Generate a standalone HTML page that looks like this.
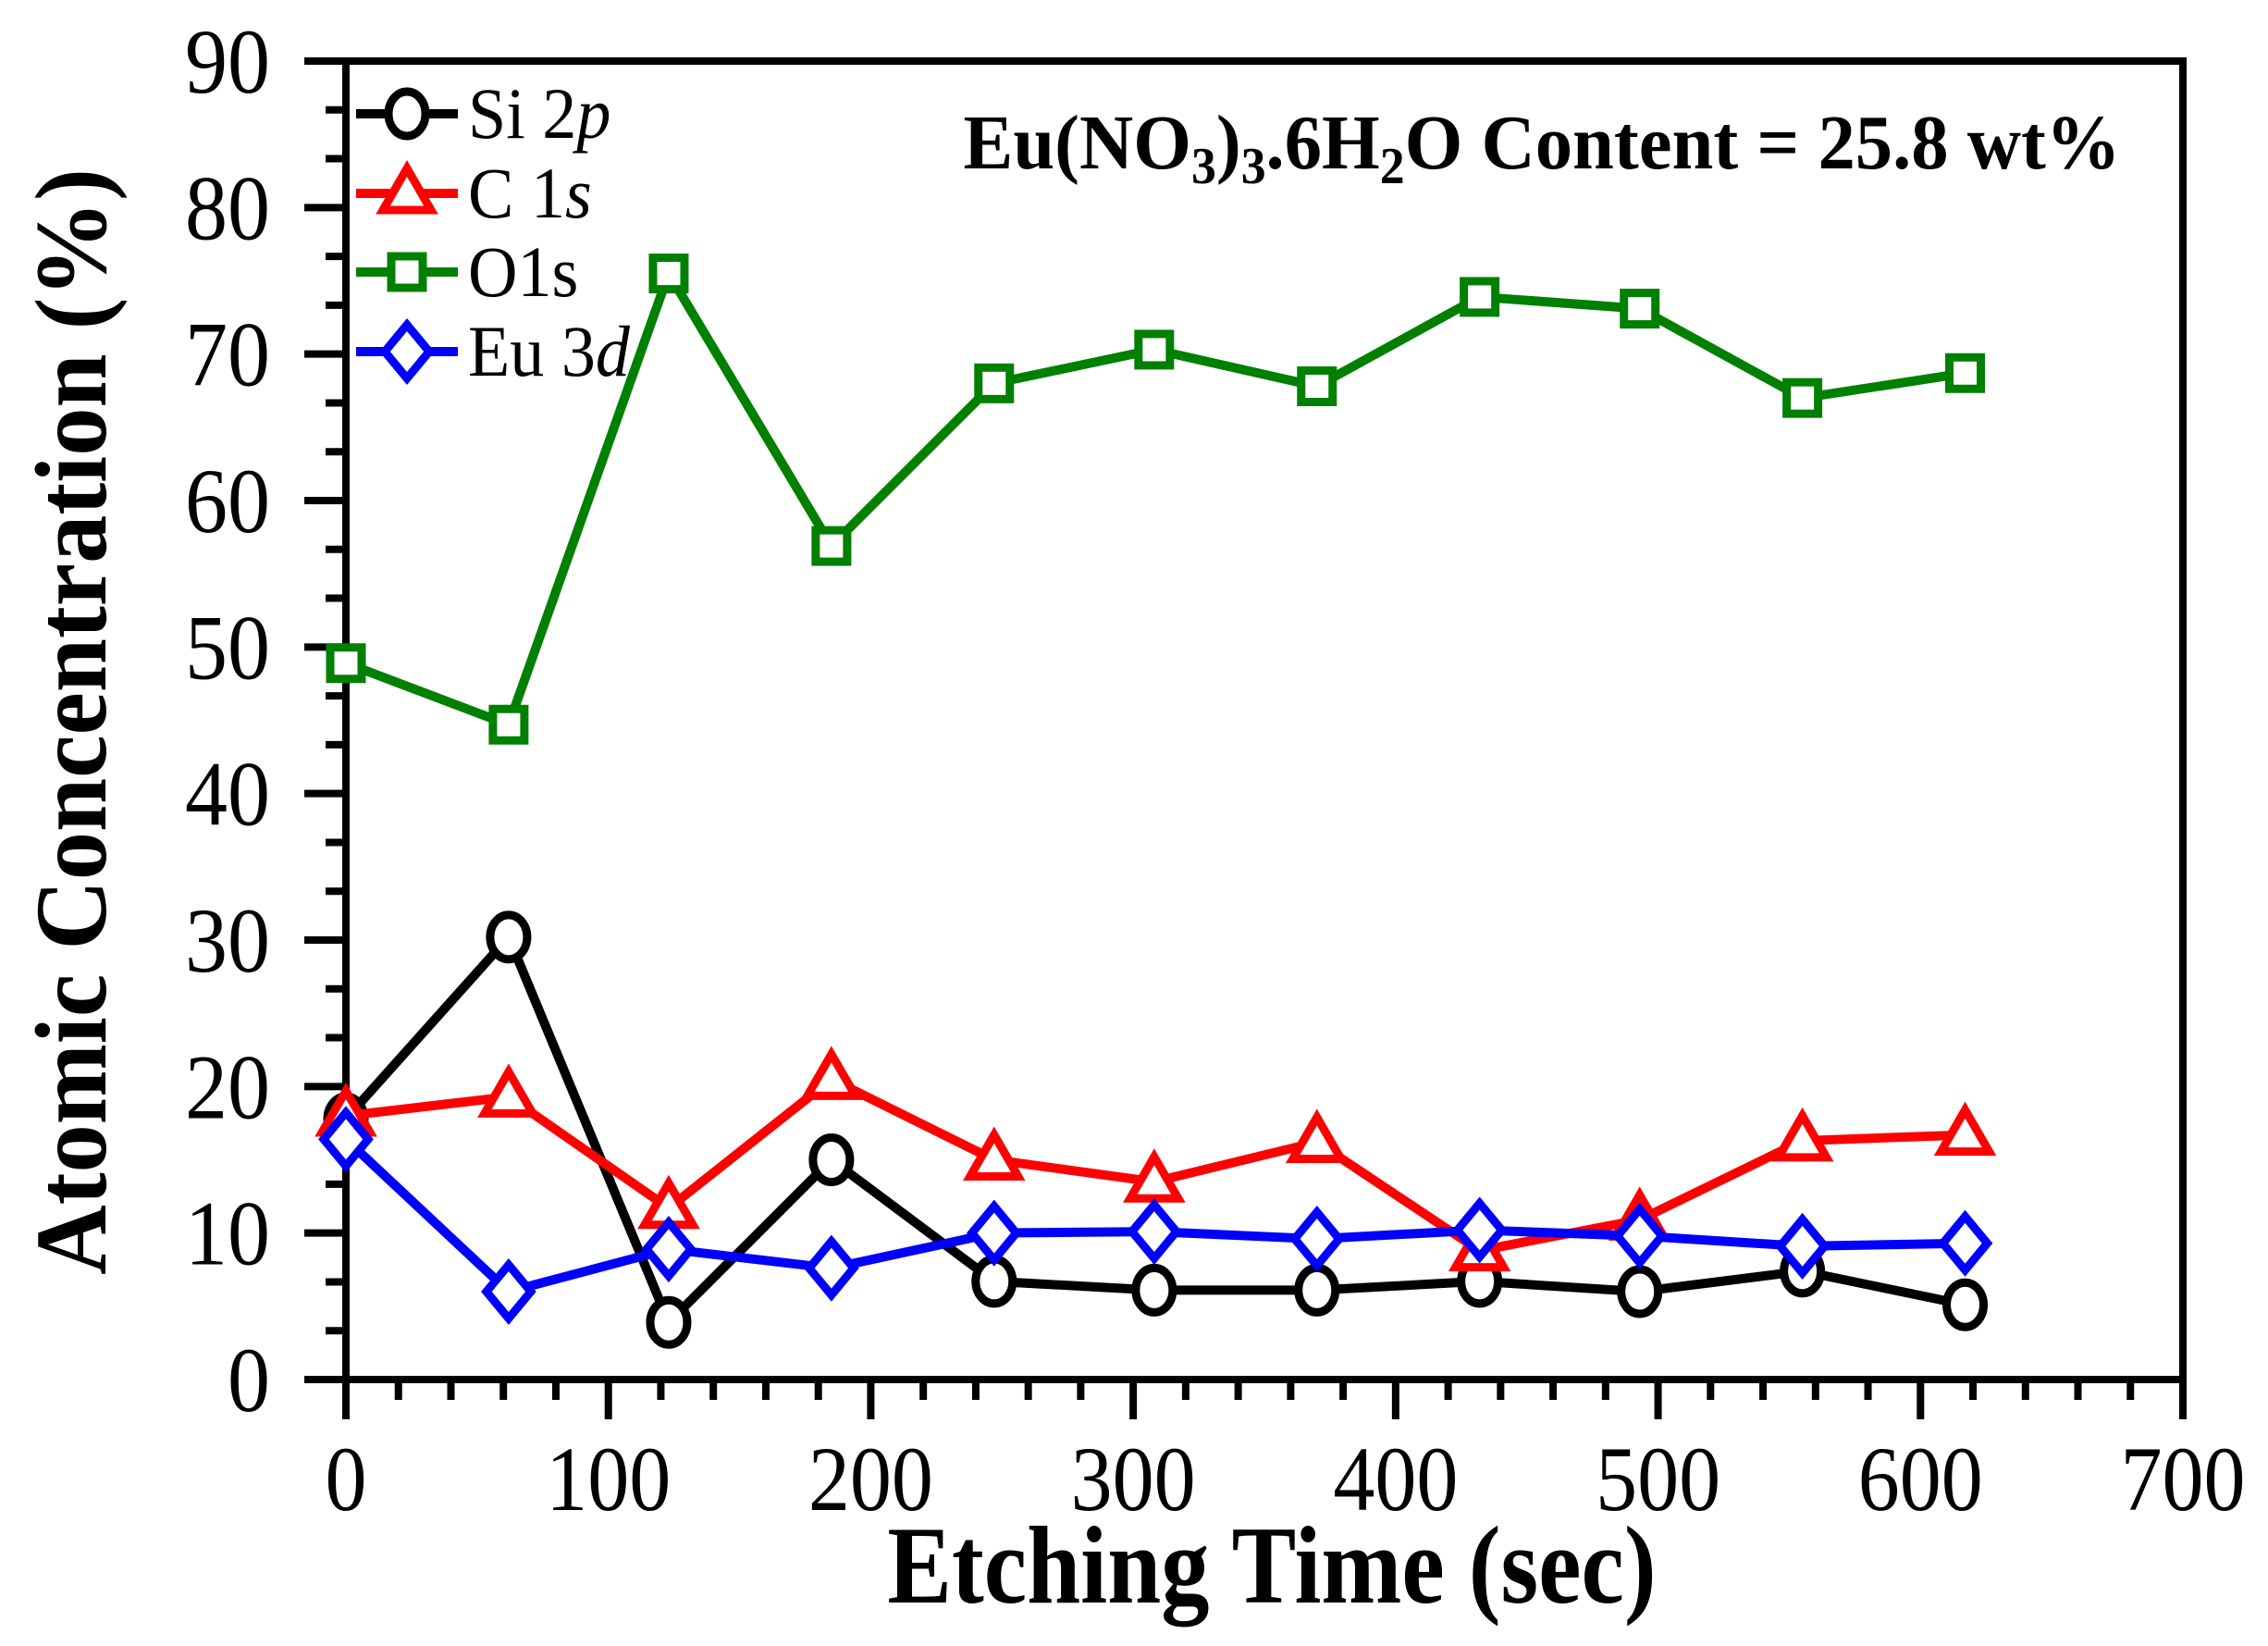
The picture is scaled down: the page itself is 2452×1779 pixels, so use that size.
<!DOCTYPE html>
<html><head><meta charset="utf-8"><style>
html,body{margin:0;padding:0;background:#fff;}
svg{display:block;font-family:"Liberation Serif",serif;}
</style></head><body>
<svg id="chart" width="2452" height="1779" viewBox="0 0 2452 1779">
<g id="axes"></g>
<g id="series"></g>
<g id="legend"></g>
<text transform="translate(1667,182) scale(0.96,1)" text-anchor="middle" font-size="84" font-weight="bold">Eu(NO<tspan font-size="56" dy="16">3</tspan><tspan dy="-16">)</tspan><tspan font-size="56" dy="16">3</tspan><tspan dy="-16">.6H</tspan><tspan font-size="56" dy="16">2</tspan><tspan dy="-16">O Content = 25.8 wt%</tspan></text>
<text transform="translate(1375,1732) scale(0.87,1)" text-anchor="middle" font-size="120" font-weight="bold">Etching Time (sec)</text>
<text transform="translate(114,780) rotate(-90) scale(0.95,1)" text-anchor="middle" font-size="110" font-weight="bold">Atomic Concentration (%)</text>
</svg>
<script>
const times=[0,62,123,185,247,308,370,432,493,555,617];
const si=[17.8,30.2,3.9,15.0,6.7,6.1,6.1,6.7,6.0,7.4,5.1];
const c1s=[18.0,19.3,11.7,20.5,15.0,13.5,16.2,8.8,10.9,16.3,16.7];
const o1s=[48.9,44.7,75.5,56.9,68.0,70.3,67.8,73.9,73.1,67.0,68.7];
const eu=[16.4,6.0,8.9,7.6,10.0,10.1,9.6,10.2,9.8,9.1,9.3];
const xTicks=[0,100,200,300,400,500,600,700];
const yTicks=[0,10,20,30,40,50,60,70,80,90];
const seriesNames=["Si 2p","C 1s","O1s","Eu 3d"];

const X0=374,X1=2360,Y0=1491,Y1=66;
const xs=v=>X0+(v/700)*(X1-X0);
const ys=v=>Y0-(v/90)*(Y0-Y1);
const NS="http://www.w3.org/2000/svg";
function mk(tag,attrs,parent){const e=document.createElementNS(NS,tag);for(const k in attrs)e.setAttribute(k,attrs[k]);parent.appendChild(e);return e;}
const axes=document.getElementById('axes');
let r=mk('rect',{x:X0,y:Y1,width:X1-X0,height:Y0-Y1,fill:'none',stroke:'#000','stroke-width':8},axes);


xTicks.forEach(t=>{
  let l=mk('line',{x1:xs(t),x2:xs(t),y1:Y0,y2:Y0+43,stroke:'#000','stroke-width':8},axes);
  
  
  let tx=mk('text',{transform:`translate(${xs(t)},1632) scale(0.9,1)`,'text-anchor':'middle','font-size':100},axes);tx.textContent=t;
  
  
  if(t<700)for(let k=1;k<5;k++){let m=mk('line',{x1:xs(t+20*k),x2:xs(t+20*k),y1:Y0,y2:Y0+22,stroke:'#000','stroke-width':8},axes);
    
    }
});
yTicks.forEach(t=>{
  let l=mk('line',{x1:X0-45,x2:X0,y1:ys(t),y2:ys(t),stroke:'#000','stroke-width':8},axes);
  
  
  let tx=mk('text',{transform:`translate(292,${ys(t)+34}) scale(0.92,1)`,'text-anchor':'end','font-size':100},axes);tx.textContent=t;
  
  
  if(t<90)for(let k=1;k<3;k++){let m=mk('line',{x1:X0-22,x2:X0,y1:ys(t+10*k/3),y2:ys(t+10*k/3),stroke:'#000','stroke-width':8},axes);
    
    }
});
function marker(g,shape,cx,cy,col){
  let e;
  if(shape==='circle')e=mk('ellipse',{cx,cy,rx:20,ry:24,fill:'#fff',stroke:col,'stroke-width':9},g);
  else if(shape==='tri')e=mk('polygon',{points:`${cx},${cy-27} ${cx+26},${cy+18} ${cx-26},${cy+18}`,fill:'#fff',stroke:col,'stroke-width':9},g);
  else if(shape==='sq')e=mk('rect',{x:cx-17,y:cy-17,width:34,height:34,fill:'#fff',stroke:col,'stroke-width':9},g);
  else e=mk('polygon',{points:`${cx},${cy-29} ${cx+24},${cy} ${cx},${cy+29} ${cx-24},${cy}`,fill:'#fff',stroke:col,'stroke-width':9},g);
  return e;
}
const S=[[si,'#000','circle','si-2p'],[c1s,'#ff0000','tri','c-1s'],[o1s,'#008000','sq','o1s'],[eu,'#0000ff','dia','eu-3d']];
const sg=document.getElementById('series');
S.forEach(([vals,col,shape,nm])=>{
  const g=mk('g',{},sg);
  
  
  let pl=mk('polyline',{points:vals.map((v,i)=>xs(times[i])+','+ys(v)).join(' '),fill:'none',stroke:col,'stroke-width':10},g);
  
  
  vals.forEach((v,i)=>{const m=marker(g,shape,xs(times[i]),ys(v),col);
    
    });
});
const lg=document.getElementById('legend');
const LY=[123,209,294,380];
S.forEach(([vals,col,shape,nm],i)=>{
  const g=mk('g',{},lg);
  
  
  mk('line',{x1:385,x2:495,y1:LY[i],y2:LY[i],stroke:col,'stroke-width':10},g);
  marker(g,shape,440,LY[i],col);
  const t=mk('text',{transform:`translate(506,${LY[i]+26}) scale(0.95,1)`,'font-size':78},g);
  const parts=seriesNames[i].split(' ');
  if(parts.length>1){t.appendChild(document.createTextNode(parts[0]+' '+parts[1].slice(0,-1)));
    const it=mk('tspan',{'font-style':'italic'},t);it.textContent=parts[1].slice(-1);}
  else t.textContent=parts[0];
});
</script>
</body></html>
